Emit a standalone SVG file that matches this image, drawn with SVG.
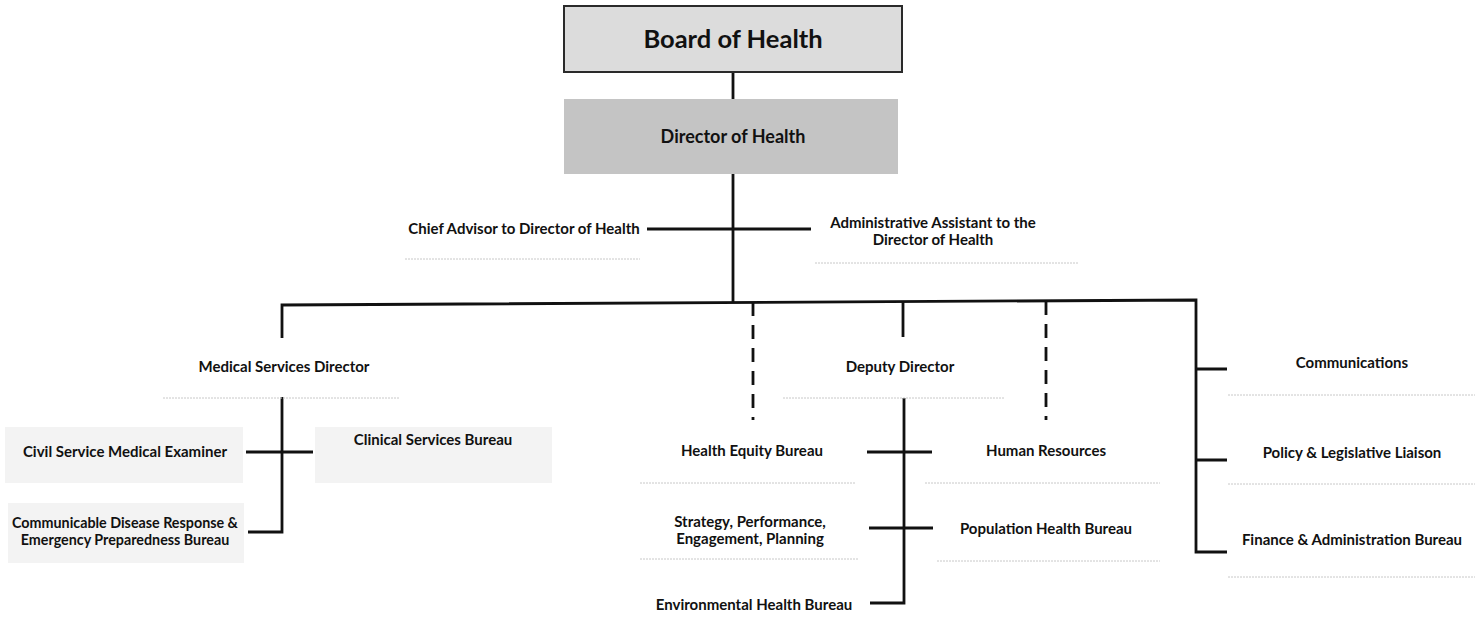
<svg xmlns="http://www.w3.org/2000/svg" width="1483" height="635" viewBox="0 0 1483 635">
  <style>
    .t { font-family: Lato, "Liberation Sans", sans-serif; font-weight: bold; font-size: 15px; fill: #111; text-anchor: middle; }
    .line { stroke: #111; stroke-width: 2.8; fill: none; }
    .dash { stroke: #111; stroke-width: 2.8; fill: none; stroke-dasharray: 14 9; }
    .rule { stroke: #c8c8c8; stroke-width: 1; stroke-dasharray: 2 1; }
    .soft { fill: #f3f3f3; }
  </style>
  <rect width="1483" height="635" fill="#fff"/>

  <!-- connectors -->
  <g id="connectors">
    <path class="line" d="M733 72 V99"/>
    <path class="line" d="M733 174 V302"/>
    <path class="line" d="M647 229 H811"/>
    <!-- main branch bar with its end drops -->
    <path class="line" d="M282 338 V305 L1196 300 V552 H1227"/>
    <path class="line" d="M1196 369 H1227 M1196 460 H1227"/>
    <path class="line" d="M903 302 V337"/>
    <path class="dash" d="M753 302 V420"/>
    <path class="dash" d="M1046 301 V420"/>
    <!-- medical services branch -->
    <path class="line" d="M282 397 V532 H248"/>
    <path class="line" d="M246 452 H313"/>
    <!-- deputy director branch -->
    <path class="line" d="M904 398 V603 H870"/>
    <path class="line" d="M867 452 H932"/>
    <path class="line" d="M869 528 H933"/>
  </g>

  <g id="board">
    <rect x="564" y="6" width="338" height="66" fill="#dcdcdc" stroke="#2a2a2a" stroke-width="2"/>
    <text class="t" x="733" y="48" style="font-size:25.5px">Board of Health</text>
  </g>

  <g id="director">
    <rect x="564" y="99" width="334" height="75" fill="#c4c4c4"/>
    <text class="t" x="733" y="143" style="font-size:18px">Director of Health</text>
  </g>

  <g id="chief-advisor">
    <text class="t" x="524" y="234">Chief Advisor to Director of Health</text>
    <line class="rule" x1="405" y1="259" x2="640" y2="259"/>
  </g>

  <g id="admin-assistant">
    <text class="t" x="933" y="228">Administrative Assistant to the</text>
    <text class="t" x="933" y="245">Director of Health</text>
    <line class="rule" x1="815" y1="263" x2="1078" y2="263"/>
  </g>

  <g id="medical-services">
    <text class="t" x="284" y="372">Medical Services Director</text>
    <line class="rule" x1="163" y1="398" x2="400" y2="398"/>
  </g>

  <g id="civil-service">
    <rect class="soft" x="5" y="427" width="238" height="56"/>
    <text class="t" x="125" y="457">Civil Service Medical Examiner</text>
  </g>

  <g id="clinical-services">
    <rect class="soft" x="315" y="427" width="237" height="56"/>
    <text class="t" x="433" y="445">Clinical Services Bureau</text>
  </g>

  <g id="communicable-disease">
    <rect class="soft" x="8" y="503" width="236" height="60"/>
    <text class="t" x="125" y="528" style="font-size:14.3px">Communicable Disease Response &amp;</text>
    <text class="t" x="125" y="545" style="font-size:14.3px">Emergency Preparedness Bureau</text>
  </g>

  <g id="deputy-director">
    <text class="t" x="900" y="372">Deputy Director</text>
    <line class="rule" x1="783" y1="398" x2="1005" y2="398"/>
  </g>

  <g id="health-equity">
    <text class="t" x="752" y="456">Health Equity Bureau</text>
    <line class="rule" x1="640" y1="483" x2="855" y2="483"/>
  </g>

  <g id="human-resources">
    <text class="t" x="1046" y="456">Human Resources</text>
    <line class="rule" x1="925" y1="483" x2="1160" y2="483"/>
  </g>

  <g id="strategy">
    <text class="t" x="750" y="527">Strategy, Performance,</text>
    <text class="t" x="750" y="544">Engagement, Planning</text>
    <line class="rule" x1="640" y1="559" x2="858" y2="559"/>
  </g>

  <g id="population-health">
    <text class="t" x="1046" y="534">Population Health Bureau</text>
    <line class="rule" x1="937" y1="561" x2="1160" y2="561"/>
  </g>

  <g id="environmental-health">
    <text class="t" x="754" y="610">Environmental Health Bureau</text>
  </g>

  <g id="communications">
    <text class="t" x="1352" y="368">Communications</text>
    <line class="rule" x1="1228" y1="395" x2="1475" y2="395"/>
  </g>

  <g id="policy">
    <text class="t" x="1352" y="458">Policy &amp; Legislative Liaison</text>
    <line class="rule" x1="1228" y1="484" x2="1475" y2="484"/>
  </g>

  <g id="finance">
    <text class="t" x="1352" y="545">Finance &amp; Administration Bureau</text>
    <line class="rule" x1="1228" y1="577" x2="1475" y2="577"/>
  </g>
</svg>
